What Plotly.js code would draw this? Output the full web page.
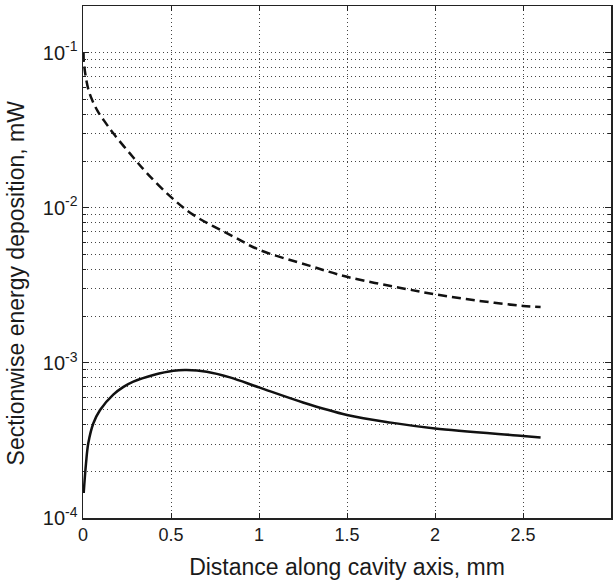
<!DOCTYPE html>
<html>
<head>
<meta charset="utf-8">
<script src="https://cdn.plot.ly/plotly-3.0.1.min.js"></script>
<style>
  html, body { margin: 0; padding: 0; background: #fff; }
  #chart { width: 613px; height: 580px; }
</style>
</head>
<body>
<div id="chart"></div>
<script>
// Dashed curve (upper)
const xDashed = [0.003, 0.006, 0.03, 0.059, 0.085, 0.115, 0.172, 0.286, 0.362, 0.494, 0.627, 0.854, 1.0, 1.29, 1.5, 1.84, 2.0, 2.24, 2.5, 2.6];
const yDashed = [0.1, 0.084, 0.0582, 0.0475, 0.0417, 0.0371, 0.0302, 0.0211, 0.0168, 0.0119, 0.0090, 0.00653, 0.00537, 0.00422, 0.00359, 0.00299, 0.00277, 0.00252, 0.00233, 0.00229];

// Solid curve (lower)
const xSolid = [0.004, 0.017, 0.030, 0.059, 0.097, 0.172, 0.23, 0.286, 0.4, 0.514, 0.589, 0.703, 0.835, 1.0, 1.25, 1.5, 1.75, 2.0, 2.5, 2.6];
const ySolid = [0.000145, 0.000224, 0.000303, 0.000408, 0.000497, 0.000624, 0.0007, 0.000757, 0.000836, 0.000891, 0.0009, 0.000878, 0.000807, 0.000695, 0.000556, 0.000462, 0.000412, 0.000378, 0.000338, 0.00033];

// Axis ticks
const xTickVals = [0, 0.5, 1, 1.5, 2, 2.5, 3];
const xTickText = ['0', '0.5', '1', '1.5', '2', '2.5', '3'];
const yTickVals = [1e-4, 1e-3, 1e-2, 1e-1];
const yTickText = ['10<sup>-4</sup>', '10<sup>-3</sup>', '10<sup>-2</sup>', '10<sup>-1</sup>'];
const yMinorVals = [2e-4, 3e-4, 4e-4, 5e-4, 6e-4, 7e-4, 8e-4, 9e-4,
                    2e-3, 3e-3, 4e-3, 5e-3, 6e-3, 7e-3, 8e-3, 9e-3,
                    2e-2, 3e-2, 4e-2, 5e-2, 6e-2, 7e-2, 8e-2, 9e-2];

const xTitle = 'Distance along cavity axis, mm';
const yTitle = 'Sectionwise energy deposition, mW';

const font = { family: '"Liberation Sans", Arial, Helvetica, sans-serif', color: '#1a1a1a' };
const gridStyle = { showgrid: true, gridcolor: '#444', gridwidth: 1, griddash: '1px,3px' };

const traces = [
  { x: xDashed, y: yDashed, type: 'scatter', mode: 'lines',
    line: { color: '#111', width: 2.5, dash: '9px,5px', shape: 'spline', smoothing: 1 },
    hoverinfo: 'skip', showlegend: false },
  { x: xSolid, y: ySolid, type: 'scatter', mode: 'lines',
    line: { color: '#111', width: 2.5, shape: 'spline', smoothing: 1 },
    hoverinfo: 'skip', showlegend: false }
];

const layout = {
  width: 613, height: 580,
  margin: { l: 83, r: 2, t: 6, b: 62, pad: 0 },
  paper_bgcolor: '#fff', plot_bgcolor: '#fff',
  font: Object.assign({ size: 18 }, font),
  showlegend: false,
  xaxis: Object.assign({
    range: [0, 3], tickmode: 'array', tickvals: xTickVals, ticktext: xTickText,
    ticks: 'inside', ticklen: 5, tickcolor: '#222', tickwidth: 1,
    showline: true, linecolor: '#222', linewidth: 1.5, mirror: 'ticks',
    zeroline: false,
    tickfont: Object.assign({ size: 18 }, font),
    title: { text: xTitle, font: Object.assign({ size: 23 }, font), standoff: 15 }
  }, gridStyle),
  yaxis: Object.assign({
    type: 'log', range: [-4, Math.log10(0.2)],
    tickmode: 'array', tickvals: yTickVals, ticktext: yTickText,
    ticks: 'inside', ticklen: 6, tickcolor: '#222', tickwidth: 1,
    showline: true, linecolor: '#222', linewidth: 1.5, mirror: 'ticks',
    zeroline: false,
    tickfont: Object.assign({ size: 20 }, font),
    minor: { tickmode: 'array', tickvals: yMinorVals, ticks: 'inside', ticklen: 3,
             tickcolor: '#222', showgrid: true, gridcolor: '#444', gridwidth: 1, griddash: '1px,3px' }
  }, gridStyle),
  annotations: [
    { text: yTitle, xref: 'paper', yref: 'paper', x: -0.126, y: 0.459,
      xanchor: 'center', yanchor: 'middle', textangle: -90, showarrow: false,
      font: Object.assign({ size: 23 }, font) }
  ]
};

Plotly.newPlot('chart', traces, layout, { staticPlot: true, displayModeBar: false });
</script>
</body>
</html>
